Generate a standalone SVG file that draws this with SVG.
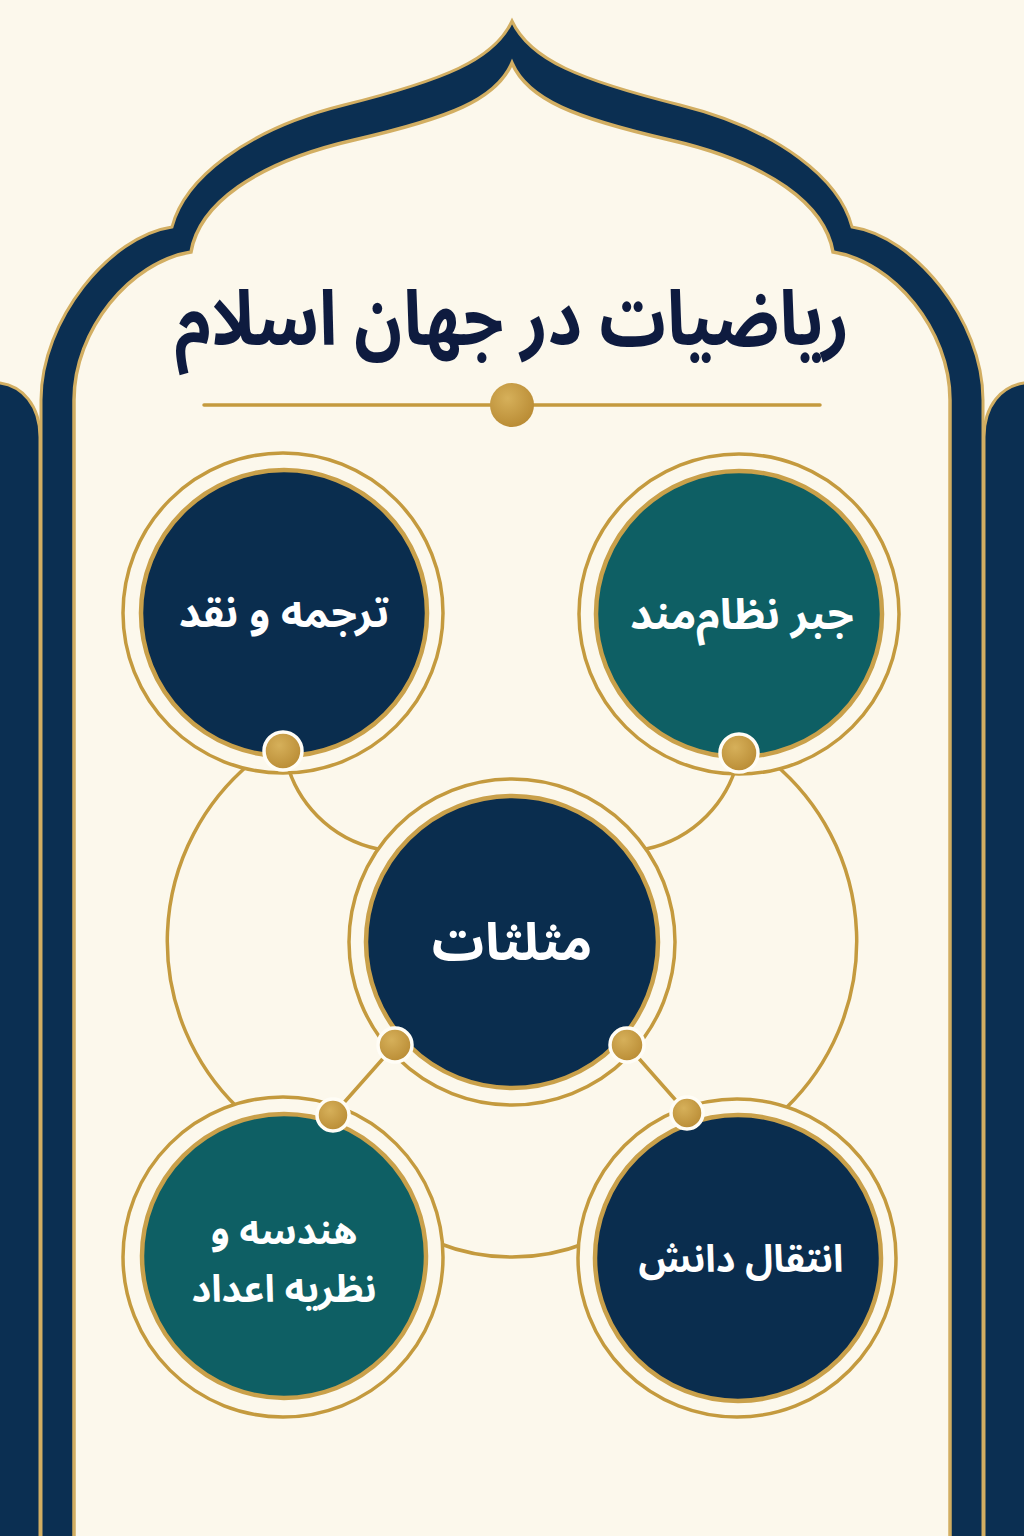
<svg xmlns="http://www.w3.org/2000/svg" width="1024" height="1536" viewBox="0 0 1024 1536">
  <defs>
    <radialGradient id="dotGrad" cx="0.4" cy="0.35" r="0.7">
      <stop offset="0" stop-color="#D6B05A"/>
      <stop offset="1" stop-color="#B88A33"/>
    </radialGradient>
    <style>
      .bg { fill: #FCF8EC; }
      .pillar { fill: #0B2F52; stroke: #D2AE62; stroke-width: 3; }
      .frame-outer { fill: #0B2F52; stroke: #D2AE62; stroke-width: 3; }
      .frame-inner { fill: #FCF8EC; stroke: #D2AE62; stroke-width: 3.5; }
      .gold-line { fill: none; stroke: #C49A3E; stroke-width: 3.5; stroke-linecap: round; }
      .ring { fill: #FCF8EC; stroke: #C49A3E; stroke-width: 3.5; }
      .navy { fill: #0A2D4E; stroke: #C9A04A; stroke-width: 4.5; }
      .teal { fill: #0E5F64; stroke: #C9A04A; stroke-width: 4.5; }
      .dot { fill: url(#dotGrad); stroke: #FFFDF6; stroke-width: 3.5; }
      .title { font-family: "Noto Sans Arabic", "Vazirmatn", "DejaVu Sans", sans-serif; font-weight: 700; fill: #0E1B3F; text-anchor: middle; }
      .label { font-family: "Noto Sans Arabic", "Vazirmatn", "DejaVu Sans", sans-serif; font-weight: 700; fill: #FFFFFF; text-anchor: middle; }
    </style>
  </defs>

  <rect class="bg" x="0" y="0" width="1024" height="1536"/>

  <g id="frame">
    <path class="pillar" d="M -5 383 L 0 383 C 22 386 40 405 40 437 L 40 1545 L -5 1545 Z"/>
    <path class="pillar" d="M 1029 383 L 1024 383 C 1002 386 984 405 984 437 L 984 1545 L 1029 1545 Z"/>
    <path class="frame-outer" d="M 41 1545 L 41 400 C 41 320 110 236 172 227 C 184 180 244 130 344 105 C 444 80 494 60 512 21 C 530 60 580 80 680 105 C 780 130 840 180 852 227 C 914 236 983 320 983 400 L 983 1545 Z"/>
    <path class="frame-inner" d="M 74 1545 L 74 400 C 74 330 130 262 191 252 C 199 205 254 163 354 140 C 449 118 496 100 512 63 C 528 100 575 118 670 140 C 770 163 825 205 833 252 C 894 262 950 330 950 400 L 950 1545 Z"/>
  </g>

  <g id="title">
    <text class="title" transform="translate(512 345) scale(0.87 1)" x="0" y="0" font-size="76" direction="rtl">ریاضیات در جهان اسلام</text>
  </g>

  <g id="divider">
    <line class="gold-line" x1="204" y1="405" x2="820" y2="405"/>
    <circle cx="512" cy="405" r="22" fill="url(#dotGrad)"/>
  </g>

  <g id="connectors">
    <path class="gold-line" d="M 285 755 A 120 120 0 0 0 378 849"/>
    <path class="gold-line" d="M 739 755 A 120 120 0 0 1 646 849"/>
    <path class="gold-line" d="M 252 762 A 232 232 0 0 0 238 1108"/>
    <path class="gold-line" d="M 772 762 A 232 232 0 0 1 786 1108"/>
    <path class="gold-line" d="M 438 1243 A 201 201 0 0 0 586 1243"/>
    <line class="gold-line" x1="395" y1="1045" x2="333" y2="1115"/>
    <line class="gold-line" x1="627" y1="1045" x2="687" y2="1113"/>
  </g>

  <g id="node-translation">
    <circle class="ring" cx="283" cy="613" r="160"/>
    <circle class="navy" cx="284" cy="613" r="143"/>
    <text class="label" x="284" y="627" font-size="42" direction="rtl">ترجمه و نقد</text>
    <circle class="dot" cx="283" cy="751" r="19"/>
  </g>

  <g id="node-algebra">
    <circle class="ring" cx="739" cy="614" r="160"/>
    <circle class="teal" cx="739" cy="614" r="143"/>
    <text class="label" x="742" y="629" font-size="43" direction="rtl">جبر نظام&#x200C;مند</text>
    <circle class="dot" cx="739" cy="753" r="19"/>
  </g>

  <g id="node-trigonometry">
    <circle class="ring" cx="512" cy="942" r="163"/>
    <circle class="navy" cx="512" cy="942" r="146"/>
    <text class="label" x="512" y="960" font-size="52" direction="rtl">مثلثات</text>
    <circle class="dot" cx="395" cy="1045" r="17"/>
    <circle class="dot" cx="627" cy="1045" r="17"/>
  </g>

  <g id="node-geometry">
    <circle class="ring" cx="283" cy="1257" r="160"/>
    <circle class="teal" cx="284" cy="1256" r="142"/>
    <text class="label" font-size="38" direction="rtl"><tspan x="284" y="1244">هندسه و</tspan><tspan x="284" y="1302">نظریه اعداد</tspan></text>
    <circle class="dot" cx="333" cy="1115" r="16"/>
  </g>

  <g id="node-transmission">
    <circle class="ring" cx="737" cy="1258" r="159"/>
    <circle class="navy" cx="738" cy="1258" r="143"/>
    <text class="label" x="741" y="1272" font-size="38" direction="rtl">انتقال دانش</text>
    <circle class="dot" cx="687" cy="1113" r="16"/>
  </g>
</svg>
